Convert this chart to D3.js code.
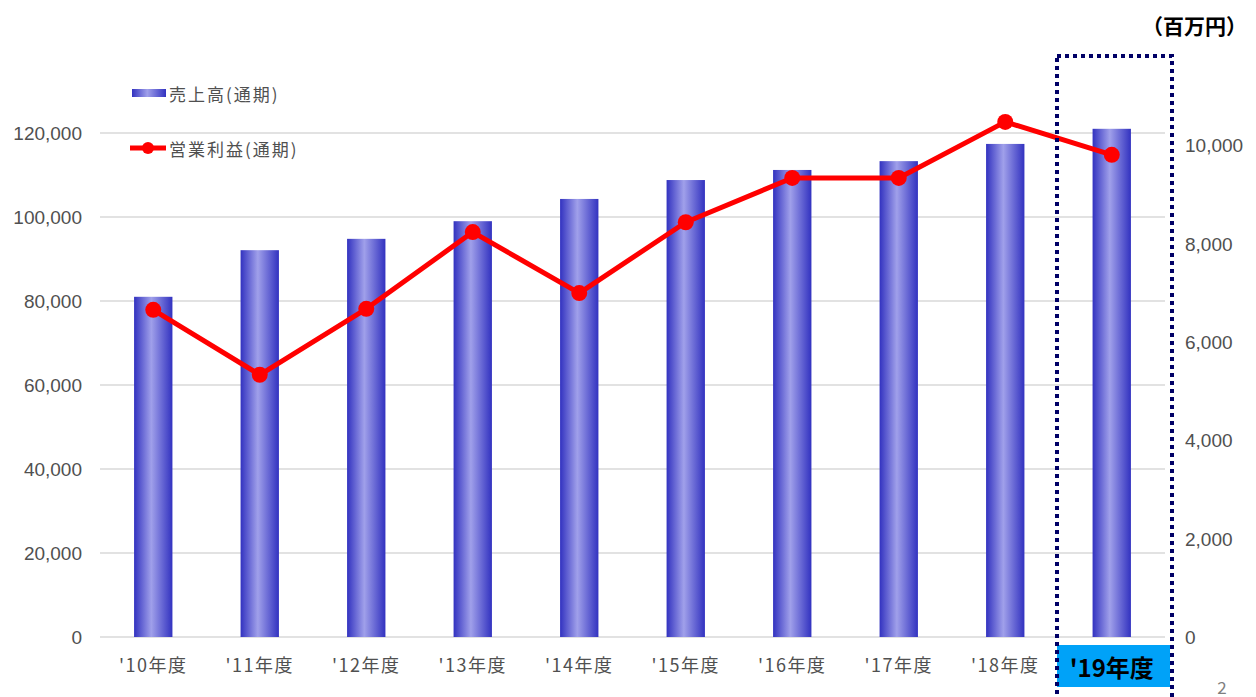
<!DOCTYPE html>
<html>
<head>
<meta charset="utf-8">
<script src="https://cdn.jsdelivr.net/npm/d3@7"></script>
<style>
  html, body { margin: 0; padding: 0; background: #fff; }
  svg { display: block; font-family: "Noto Sans CJK JP", "Noto Sans", sans-serif; }
</style>
</head>
<body>
<svg id="chart" width="1256" height="697"></svg>
<script>
// Fiscal years
const years = ["'10年度", "'11年度", "'12年度", "'13年度", "'14年度", "'15年度", "'16年度", "'17年度", "'18年度", "'19年度"];
// 売上高 (通期), 百万円
const sales = [81000, 92100, 94800, 99000, 104300, 108800, 111200, 113300, 117400, 121000];
// 営業利益 (通期), 百万円
const profit = [6650, 5330, 6670, 8230, 6990, 8430, 9330, 9330, 10470, 9800];
// Axis ticks
const leftTicks = [0, 20000, 40000, 60000, 80000, 100000, 120000];
const rightTicks = [0, 2000, 4000, 6000, 8000, 10000];
const seriesNames = ["売上高(通期)", "営業利益(通期)"];
const unitLabel = "（百万円）";
const highlightYear = "'19年度";

const svg = d3.select("#chart");
const plot = { left: 100, right: 1165, top: 133, bottom: 637 };

const x = d3.scaleBand().domain(years).range([plot.left, plot.right]).paddingInner(0.64).paddingOuter(0.32);
const yL = d3.scaleLinear().domain([0, 120000]).range([plot.bottom, plot.top]);
const yR = d3.scaleLinear().domain([0, 10000]).range([plot.bottom, 145]);
const fmt = d3.format(",");
const numFont = "Liberation Sans, Arial, sans-serif";

// Bar gradient: dark edges, lighter centre
const defs = svg.append("defs");
const grad = defs.append("linearGradient").attr("id", "barGrad").attr("x1", "0%").attr("x2", "100%").attr("y1", "0%").attr("y2", "0%");
grad.append("stop").attr("offset", "0%").attr("stop-color", "#3232c0");
grad.append("stop").attr("offset", "45%").attr("stop-color", "#a0a0ea");
grad.append("stop").attr("offset", "100%").attr("stop-color", "#3232c0");

// Gridlines
svg.append("g")
  .selectAll("line").data(leftTicks).join("line")
  .attr("x1", plot.left).attr("x2", plot.right)
  .attr("y1", d => yL(d)).attr("y2", d => yL(d))
  .attr("stroke", "#d9d9d9").attr("stroke-width", 1.5);

// Left axis
const axL = svg.append("g").attr("transform", `translate(${plot.left - 18},0)`)
  .call(d3.axisLeft(yL).tickValues(leftTicks).tickFormat(fmt).tickSize(0).tickPadding(0));
axL.select(".domain").remove();
axL.selectAll("text").attr("font-size", 19).attr("fill", "#505050").attr("font-family", numFont).attr("dy", "0.35em");

// Right axis
const axR = svg.append("g").attr("transform", `translate(${plot.right + 20},0)`)
  .call(d3.axisRight(yR).tickValues(rightTicks).tickFormat(fmt).tickSize(0).tickPadding(0));
axR.select(".domain").remove();
axR.selectAll("text").attr("font-size", 19).attr("fill", "#505050").attr("font-family", numFont).attr("dy", "0.35em");

// Bars
svg.append("g").selectAll("rect").data(sales).join("rect")
  .attr("x", (d, i) => x(years[i]))
  .attr("width", x.bandwidth())
  .attr("y", d => yL(d))
  .attr("height", d => yL(0) - yL(d))
  .attr("fill", "url(#barGrad)");

// Profit line
const line = d3.line().x((d, i) => x(years[i]) + x.bandwidth() / 2).y(d => yR(d));
svg.append("path").datum(profit).attr("d", line)
  .attr("fill", "none").attr("stroke", "#ff0000").attr("stroke-width", 5).attr("stroke-linejoin", "round");
svg.append("g").selectAll("circle").data(profit).join("circle")
  .attr("cx", (d, i) => x(years[i]) + x.bandwidth() / 2)
  .attr("cy", d => yR(d)).attr("r", 8).attr("fill", "#ff0000");

// X labels
svg.append("g").selectAll("text").data(years.filter(y => y !== highlightYear)).join("text")
  .attr("x", d => x(d) + x.bandwidth() / 2).attr("y", 664)
  .attr("text-anchor", "middle").attr("dominant-baseline", "central")
  .attr("font-size", 18).attr("letter-spacing", 1.5).attr("fill", "#505050").text(d => d);

// Highlighted year
const hx = x(highlightYear) + x.bandwidth() / 2;
svg.append("rect").attr("x", 1057).attr("y", 645).attr("width", 113).attr("height", 42).attr("fill", "#00a2f8");
svg.append("text").attr("x", hx).attr("y", 666).attr("text-anchor", "middle").attr("dominant-baseline", "central")
  .attr("font-size", 24).attr("font-weight", "bold").attr("fill", "#000").text(highlightYear);
svg.append("rect").attr("x", 1057).attr("y", 56).attr("width", 115).attr("height", 660)
  .attr("fill", "none").attr("stroke", "#000066").attr("stroke-width", 4).attr("stroke-dasharray", "4,4");

// Legend
const lg = svg.append("g");
lg.append("rect").attr("x", 132).attr("y", 89).attr("width", 34).attr("height", 8).attr("fill", "url(#barGrad)");
lg.append("text").attr("x", 169).attr("y", 93).attr("dominant-baseline", "central").attr("font-size", 17).attr("letter-spacing", 2).attr("fill", "#505050").text(seriesNames[0]);
lg.append("line").attr("x1", 130).attr("x2", 166).attr("y1", 148).attr("y2", 148).attr("stroke", "#ff0000").attr("stroke-width", 5);
lg.append("circle").attr("cx", 148).attr("cy", 148).attr("r", 6).attr("fill", "#ff0000");
lg.append("text").attr("x", 169).attr("y", 148).attr("dominant-baseline", "central").attr("font-size", 17).attr("letter-spacing", 2).attr("fill", "#505050").text(seriesNames[1]);

// Unit label
svg.append("text").attr("x", 1247).attr("y", 25).attr("text-anchor", "end").attr("dominant-baseline", "central")
  .attr("font-size", 21).attr("font-weight", "bold").attr("fill", "#000").text(unitLabel);

// Page number
svg.append("text").attr("x", 1222).attr("y", 686).attr("text-anchor", "middle").attr("dominant-baseline", "central")
  .attr("font-size", 17).attr("fill", "#7f7f7f").text("2");
</script>
</body>
</html>
